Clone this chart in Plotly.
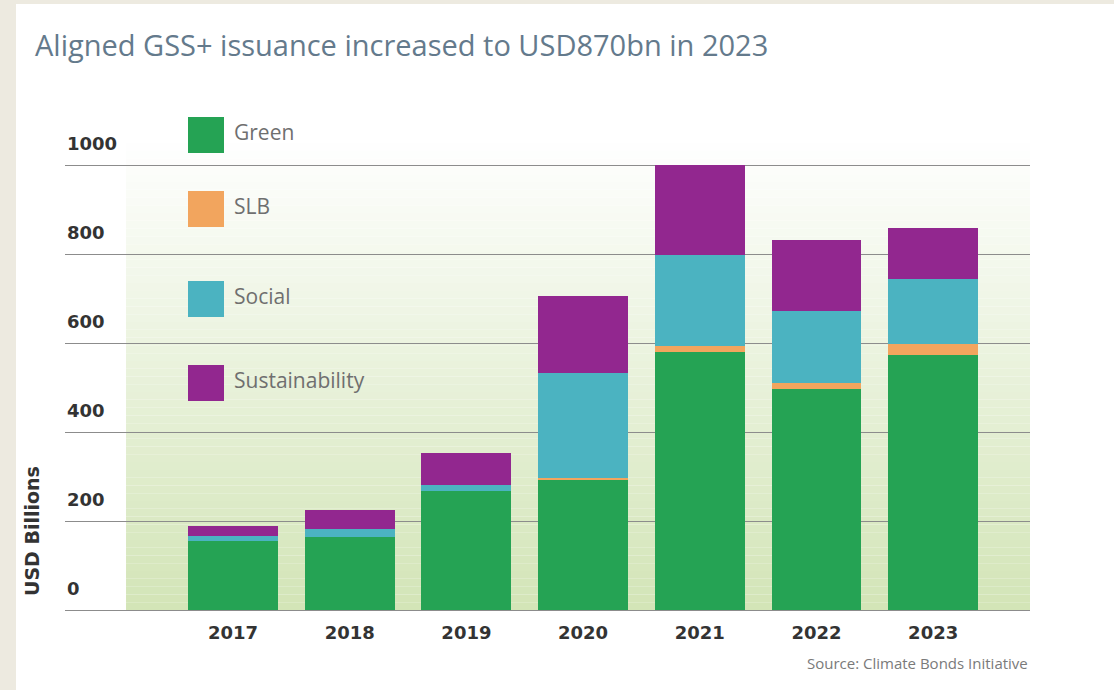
import plotly.graph_objects as go

years = ["2017", "2018", "2019", "2020", "2021", "2022", "2023"]
green = [155, 164, 267, 293, 579, 498, 573]
slb = [0, 0, 0, 4, 14, 13, 24]
social = [11, 18, 15, 236, 206, 162, 148]
sustainability = [22, 42, 72, 172, 201, 158, 113]
series_names = ["Green", "SLB", "Social", "Sustainability"]
series_colors = ["#25a354", "#f2a55e", "#4bb3c1", "#92278f"]
y_ticks = [0, 200, 400, 600, 800, 1000]

W, H = 1114, 690
ML, MR, MT, MB = 65, 84, 143, 80
PW = W - ML - MR
PH = H - MT - MB


def px(x):
    return (x - ML) / PW


def py(y):
    return (H - MB - y) / PH


fig = go.Figure()
for name, vals, col in zip(series_names, [green, slb, social, sustainability], series_colors):
    fig.add_trace(go.Bar(x=years, y=vals, name=name, marker=dict(color=col, line=dict(width=0)),
                         showlegend=False))

shapes = []
# background gradient (decoration)
n = 60
ytop = 1050
for i in range(n):
    y0 = ytop * i / n
    y1 = ytop * (i + 1) / n
    f = (i + 0.5) / n
    r = int(211 + (255 - 211) * f)
    g = int(229 + (255 - 229) * f)
    b = int(183 + (255 - 183) * f)
    shapes.append(dict(type="rect", xref="x", yref="y", x0=-0.917, x1=6.83, y0=y0, y1=y1,
                       fillcolor=f"rgb({r},{g},{b})", line=dict(width=0), layer="below"))

# beige frame
shapes.append(dict(type="rect", xref="paper", yref="paper", x0=px(0), x1=px(16), y0=py(H), y1=py(0),
                   fillcolor="#edeae0", line=dict(width=0), layer="below"))
shapes.append(dict(type="rect", xref="paper", yref="paper", x0=px(0), x1=px(W), y0=py(4), y1=py(0),
                   fillcolor="#edeae0", line=dict(width=0), layer="below"))

annotations = []
# y tick labels, left aligned above grid lines
for t in y_ticks:
    annotations.append(dict(text=str(t), xref="paper", yref="y", x=px(65), y=t, yshift=22,
                            xanchor="left", yanchor="middle", showarrow=False,
                            font=dict(family="DejaVu Sans", size=18, color="#333333", weight="bold")))

# custom legend
legend_tops = [117, 191, 281, 365]
for name, col, top in zip(series_names, series_colors, legend_tops):
    shapes.append(dict(type="rect", xref="paper", yref="paper", x0=px(188), x1=px(224),
                       y0=py(top + 36), y1=py(top), fillcolor=col, line=dict(width=0)))
    annotations.append(dict(text=name, xref="paper", yref="paper", x=px(232), y=py(top + 15),
                            xanchor="left", yanchor="middle", showarrow=False,
                            font=dict(family="Open Sans", size=21, color="#6f6f6f")))

# title
annotations.append(dict(text="Aligned GSS+ issuance increased to USD870bn in 2023", xref="paper", yref="paper",
                        x=px(33), y=py(45), xanchor="left", yanchor="middle", showarrow=False,
                        font=dict(family="Open Sans", size=29, color="#647a8c")))
# y title
annotations.append(dict(text="USD Billions", xref="paper", yref="paper", x=px(32), y=py(531),
                        xanchor="center", yanchor="middle", textangle=-90, showarrow=False,
                        font=dict(family="DejaVu Sans", size=19, color="#333333", weight="bold")))
# source
annotations.append(dict(text="Source: Climate Bonds Initiative", xref="paper", yref="paper",
                        x=px(1030), y=py(663), xanchor="right", yanchor="middle", showarrow=False,
                        font=dict(family="Open Sans", size=15, color="#7a7a7a")))

fig.update_layout(
    width=W, height=H,
    margin=dict(l=ML, r=MR, t=MT, b=MB),
    paper_bgcolor="white", plot_bgcolor="rgba(0,0,0,0)",
    barmode="stack", bargap=0.23,
    shapes=shapes, annotations=annotations,
    xaxis=dict(range=[-1.44, 6.83], showgrid=False, showline=False, zeroline=False, ticks="",
               tickfont=dict(family="DejaVu Sans", size=18, color="#333333", weight="bold"),
               ticklabelstandoff=10),
    yaxis=dict(range=[0, 1050], tickvals=y_ticks, showgrid=True, gridcolor="#8c8c8c", gridwidth=1.3,
               zeroline=True, zerolinecolor="#8c8c8c", zerolinewidth=1.3, showline=False, ticks="",
               showticklabels=False),
)

fig.write_html("out.html", config={"displayModeBar": False},
               post_script="document.body.style.margin='0';document.body.style.overflow='hidden';")
